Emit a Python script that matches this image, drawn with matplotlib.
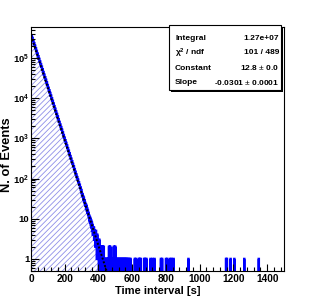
import numpy as np
import matplotlib
matplotlib.use("Agg")
import matplotlib.pyplot as plt
from matplotlib.patches import Rectangle
from matplotlib.ticker import FixedLocator, LogLocator, NullFormatter, FixedFormatter, MultipleLocator

plt.rcParams['font.family'] = ['Liberation Sans', 'DejaVu Sans']
plt.rcParams['mathtext.fontset'] = 'custom'
plt.rcParams['mathtext.rm'] = 'Liberation Sans'
plt.rcParams['mathtext.bf'] = 'Liberation Sans:bold'
plt.rcParams['mathtext.it'] = 'Liberation Sans:italic'
plt.rcParams['hatch.linewidth'] = 0.6

# ---------------- data ----------------
# dense part: 5 s bins, 0-300 s (counts per 1 s bin)
dense_edges_start = 0
dense_width = 5
dense_counts = [370000, 318000, 274000, 235000, 202000, 174000, 150000, 129000,
                111000, 95300, 82000, 70500, 60700, 52200, 44900, 38600,
                33200, 28600, 24600, 21200, 18200, 15700, 13500, 11600,
                9980, 8590, 7390, 6360, 5470, 4700, 4050, 3480,
                3000, 2580, 2220, 1910, 1640, 1410, 1210, 1045,
                899, 773, 665, 572, 492, 424, 364, 313,
                270, 232, 200, 172, 148, 127, 109, 94,
                81, 70, 60, 52]
# noisy part: 2 s bins, 300-420 s
noisy_start = 300
noisy_width = 2
noisy_counts = [44, 39, 41, 35, 36, 30, 33, 27, 29, 24,
                25, 21, 23, 18, 21, 16, 18, 14, 16, 13,
                14, 11, 12, 9, 11, 8, 10, 7, 9, 6,
                8, 5, 7, 4, 6, 4, 6, 3, 5, 3,
                4, 2, 5, 2, 3, 1, 4, 1, 3, 2,
                2, 0, 3, 1, 2, 0, 1, 2, 0, 1]
# sparse tail: 1 s bins from 420 to 1500, occupied bins (time, count)
tail_times = [422, 426, 431, 436, 441, 446, 451, 456, 462, 466, 470, 475, 480, 484,
              490, 495, 500, 505, 510, 515, 520, 525, 530, 535, 540, 545, 550, 555,
              560, 565, 570, 576, 583, 590, 615, 621, 638, 644, 650, 670, 676, 684,
              708, 720, 732, 770, 777, 800, 808, 825, 833, 845,
              933, 1156, 1161, 1183, 1205, 1264, 1350]
tail_counts = [2, 2, 2, 1, 1, 1, 1, 1, 2, 2, 2, 1, 1, 1,
               2, 2, 2, 1, 1, 1, 1, 1, 1, 1, 1, 1, 1, 1,
               1, 1, 1, 1, 1, 1, 1, 1, 1, 1, 1, 1, 1, 1,
               1, 1, 1, 1, 1, 1, 1, 1, 1, 1,
               1, 1, 1, 1, 1, 1, 1]

fit_constant = 12.8
fit_slope = -0.0301
stats_labels = ["Integral", r"$\mathbf{\chi^{2}}$ / ndf", "Constant", "Slope"]
stats_values = ["1.27e+07", "101 / 489", "12.8 $\\pm$ 0.0", "-0.0301 $\\pm$ 0.0001"]

x_range = (0, 1500)
y_range = (0.5, 5.9e5)

# ---------------- build histogram ----------------
edges = list(dense_edges_start + dense_width * np.arange(len(dense_counts) + 1))
vals = list(dense_counts)
n_edges = noisy_start + noisy_width * np.arange(1, len(noisy_counts) + 1)
edges += list(n_edges)
vals += list(noisy_counts)
tail_start = int(edges[-1])
tail = np.zeros(1500 - tail_start)
for t, c in zip(tail_times, tail_counts):
    tail[t - tail_start] = c
edges += list(np.arange(tail_start + 1, 1501))
vals += list(tail)
edges = np.array(edges, dtype=float)
vals = np.array(vals, dtype=float)
plot_vals = np.where(vals > 0, vals, 1e-3)

# ---------------- figure ----------------
W, H = 315, 302
fig = plt.figure(figsize=(W / 100, H / 100), dpi=100)
L, R, T, B = 31, 284, 27, 271
ax = fig.add_axes([L / W, 1 - B / H, (R - L) / W, (B - T) / H])
ax.set_yscale('log')

blue = '#0000ff'
ax.stairs(plot_vals, edges, baseline=1e-3, fill=True, hatch='//////',
          facecolor='none', edgecolor='#8f8fe8', linewidth=0)
ax.stairs(plot_vals, edges, baseline=None, color=blue, linewidth=1.7)

xf = np.linspace(0, 1500, 1501)
ax.plot(xf, np.exp(fit_constant + fit_slope * xf), color='black', linewidth=1.4,
        linestyle=(0, (1, 1)))

ax.set_xlim(*x_range)
ax.set_ylim(*y_range)

for s in ax.spines.values():
    s.set_linewidth(0.8)

ax.xaxis.set_major_locator(MultipleLocator(200))
ax.xaxis.set_minor_locator(MultipleLocator(40))
ax.yaxis.set_major_locator(FixedLocator([1, 10, 1e2, 1e3, 1e4, 1e5]))
ax.yaxis.set_major_formatter(FixedFormatter(['1', '10', r'$\mathbf{10^{2}}$', r'$\mathbf{10^{3}}$',
                                             r'$\mathbf{10^{4}}$', r'$\mathbf{10^{5}}$']))
ax.yaxis.set_minor_locator(LogLocator(base=10, subs=np.arange(2, 10)))
ax.yaxis.set_minor_formatter(NullFormatter())
ax.tick_params(which='both', direction='in', top=False, right=False)
ax.tick_params(which='major', length=5.4, width=0.8, labelsize=7.3)
ax.tick_params(axis='x', which='major', pad=2.5)
ax.tick_params(axis='y', which='major', pad=1.2, labelsize=6.8)
ax.tick_params(which='minor', length=2.7, width=0.8)
for lab in ax.get_xticklabels() + ax.get_yticklabels():
    lab.set_fontweight('bold')

fig.text((L + R) / 2 / W, 1 - 291 / H, 'Time interval [s]', ha='center', va='center',
         fontsize=8.0, fontweight='bold')
fig.text(7 / W, 1 - 155 / H, 'N. of Events', ha='center', va='center', rotation=90,
         fontsize=9.3, fontweight='bold')

# stats box
bx0, bx1, by0, by1 = 169, 281, 25, 90
fig.patches.append(Rectangle(((bx0 + 2) / W, 1 - (by1 + 2) / H), (bx1 - bx0) / W, (by1 - by0) / H,
                             transform=fig.transFigure, facecolor='black', edgecolor='none', zorder=5))
fig.patches.append(Rectangle((bx0 / W, 1 - by1 / H), (bx1 - bx0) / W, (by1 - by0) / H,
                             transform=fig.transFigure, facecolor='white', edgecolor='black',
                             linewidth=0.8, zorder=6))
rows_y = [38, 53, 68, 82]
for lab, val, yy in zip(stats_labels, stats_values, rows_y):
    fig.text(175 / W, 1 - yy / H, lab, ha='left', va='center', fontsize=6.0,
             fontweight='bold', zorder=7)
    fig.text(279 / W, 1 - yy / H, val, ha='right', va='center', fontsize=6.0,
             fontweight='bold', zorder=7)

fig.savefig('out.png', dpi=100)
